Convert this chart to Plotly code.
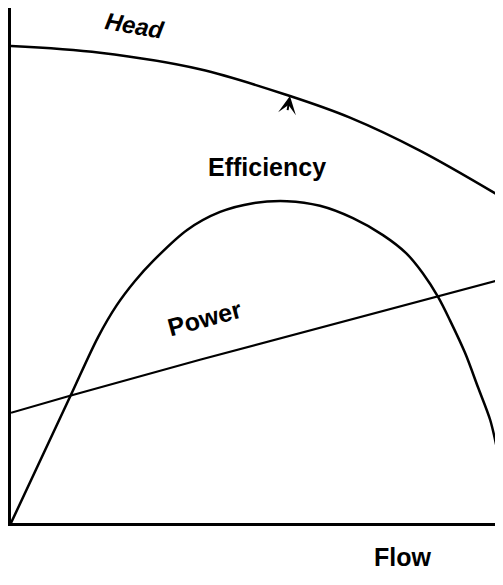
import plotly.graph_objects as go

# flow in % of axis width, values in % of axis height
head_flow = [0, 18.1, 38.4, 56.7, 68.9, 83.1, 100]
head_val = [92.6, 91.3, 88.1, 82.9, 78.7, 72.3, 63.1]

power_flow = [0, 12.0, 38.4, 86.6, 100]
power_val = [21.4, 24.7, 31.7, 44.1, 47.4]

eff_flow = [0, 12.0, 17.7, 21.5, 25.2, 28.9, 35.8, 42.5, 49.2, 56.1,
            62.8, 69.5, 75.6, 80.3, 83.7, 86.8, 89.2, 92.3, 94.9, 97.4, 99.0, 100]
eff_val = [0, 24.5, 36.1, 42.3, 47.0, 50.9, 56.9, 60.4, 62.1, 62.5,
           61.6, 59.2, 55.9, 52.4, 48.5, 43.9, 39.4, 33.0, 26.4, 20.0, 13.6, 9.9]

FONT = "Liberation Sans, Arial, sans-serif"

fig = go.Figure()
fig.add_trace(go.Scatter(x=head_flow, y=head_val, mode="lines",
                         line=dict(color="black", width=2.5, shape="spline", smoothing=1.0),
                         cliponaxis=False))
fig.add_trace(go.Scatter(x=power_flow, y=power_val, mode="lines",
                         line=dict(color="black", width=2.2), cliponaxis=False))
fig.add_trace(go.Scatter(x=eff_flow, y=eff_val, mode="lines",
                         line=dict(color="black", width=2.5, shape="spline", smoothing=0.9),
                         cliponaxis=False))

# operating point marker on the head curve
fig.add_annotation(x=head_flow[3], y=head_val[3], ax=-4, ay=24,
                   showarrow=True, arrowhead=3, arrowsize=1.5, arrowwidth=2, arrowcolor="black")

labels = [
    ("Head", 25.2, 96.6, 10, "italic", 24),
    ("Efficiency", 52.0, 69.1, 0, "normal", 25),
    ("Power", 39.4, 39.8, -15, "normal", 25),
]
for text, x, y, ang, style, size in labels:
    fig.add_annotation(text=text, x=x, y=y, xref="x", yref="y", showarrow=False,
                       textangle=ang,
                       font=dict(family=FONT, size=size, color="black", weight="bold", style=style))

fig.add_annotation(text="Flow", x=79.5, y=-0.097, xref="x", yref="paper", showarrow=False,
                   font=dict(family=FONT, size=25, color="black", weight="bold"))

axis_common = dict(showgrid=False, zeroline=False, showticklabels=False, ticks="",
                   showline=True, linecolor="black", linewidth=3, fixedrange=True)
fig.update_xaxes(range=[0, 100], **axis_common)
fig.update_yaxes(range=[0, 100], **axis_common)

# the page adds an 8px body margin, so the figure is 8px smaller
fig.update_layout(
    width=495, height=577,
    margin=dict(l=3, r=0, t=0, b=62),
    plot_bgcolor="white", paper_bgcolor="white",
    showlegend=False,
)

fig.write_html("out.html")
